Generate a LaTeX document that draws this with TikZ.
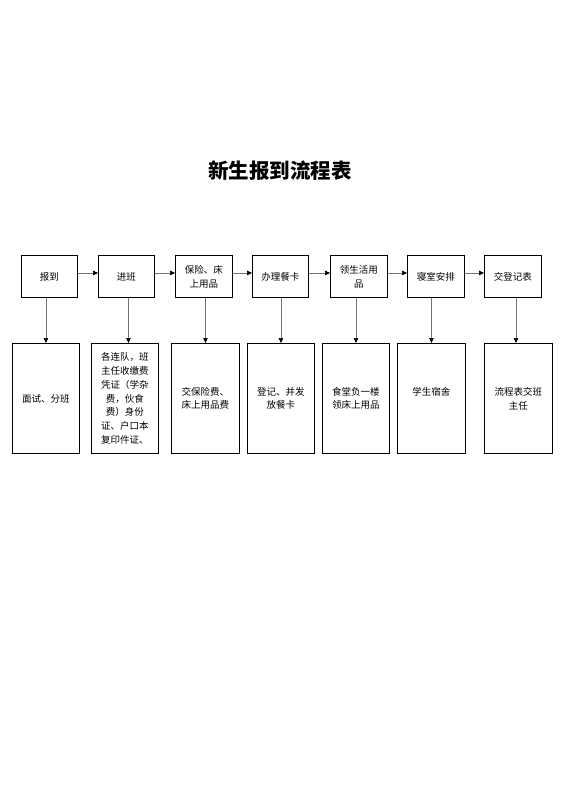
\documentclass[tikz,border=0pt]{standalone}
\usepackage{fontspec}
\setmainfont{Noto Sans CJK SC}
\usetikzlibrary{arrows.meta}
\begin{document}
\begin{tikzpicture}[x=1pt,y=-1pt,
  topbox/.style={draw=black,line width=0.9pt,minimum width=56pt,minimum height=42pt,inner sep=0pt,align=center,font=\fontsize{9.5}{14}\selectfont,anchor=north west},
  botbox/.style={draw=black,line width=0.9pt,minimum width=67pt,minimum height=110pt,inner sep=0pt,anchor=north west},
  txt/.style={align=center,font=\fontsize{9.5}{13.8}\selectfont,inner sep=0pt},
  arr/.style={draw=black!55,line width=0.7pt,-{Triangle[length=5pt,width=4.5pt,fill=black,color=black]}}]
\useasboundingbox (0,0) rectangle (560,792);
\node[font=\fontsize{20.5}{24}\selectfont\bfseries] (title) at (280,171) {新生报到流程表};
% top row
\node[topbox] (t1) at (21,255) {报到};
\node[topbox] (t2) at (98,255) {进班};
\node[topbox,minimum width=57pt] (t3) at (175,255) {保险、床\\上用品};
\node[topbox] (t4) at (252,255) {办理餐卡};
\node[topbox,minimum width=57pt] (t5) at (330,255) {领生活用\\品};
\node[topbox,minimum width=57pt] (t6) at (407,255) {寝室安排};
\node[topbox,minimum width=57pt] (t7) at (484,255) {交登记表};
% bottom row
\node[botbox] (b1) at (12,343) {};
\node[botbox] (b2) at (91,343) {};
\node[botbox,minimum width=68pt] (b3) at (171,343) {};
\node[botbox] (b4) at (247,343) {};
\node[botbox] (b5) at (322,343) {};
\node[botbox,minimum width=68pt] (b6) at (397,343) {};
\node[botbox,minimum width=68pt] (b7) at (484,343) {};
% bottom texts
\node[txt] (l1) at (b1.center) {面试、分班};
\node[txt] (l2) at (b2.center) {各连队，班\\主任收缴费\\凭证（学杂\\费，伙食\\费）身份\\证、户口本\\复印件证、};
\node[txt] (l3) at (b3.center) {交保险费、\\床上用品费};
\node[txt] (l4) at (b4.center) {登记、并发\\放餐卡};
\node[txt] (l5) at (b5.center) {食堂负一楼\\领床上用品};
\node[txt] (l6) at ([yshift=6.5pt]b6.center) {学生宿舍};
\node[txt] (l7) at (b7.center) {流程表交班\\主任};
% horizontal arrows
\foreach \a/\b in {t1/t2,t2/t3,t3/t4,t4/t5,t5/t6,t6/t7}
  \draw[arr] ([yshift=3.5pt]\a.east) -- ([yshift=3.5pt]\b.west);
% vertical arrows
\draw[arr] (t1.south -| b1.north) -- (b1.north);
\draw[arr] ([xshift=2pt]t2.south) -- ([xshift=2pt]t2.south |- b2.north);
\draw[arr] (t3.south -| b3.north) -- (b3.north);
\draw[arr] (t4.south -| b4.north) -- (b4.north);
\draw[arr] (t5.south -| b5.north) -- (b5.north);
\draw[arr] (t6.south -| b6.north) -- (b6.north);
\draw[arr] ([xshift=3pt]t7.south) -- ([xshift=3pt]t7.south |- b7.north);
\end{tikzpicture}
\end{document}
